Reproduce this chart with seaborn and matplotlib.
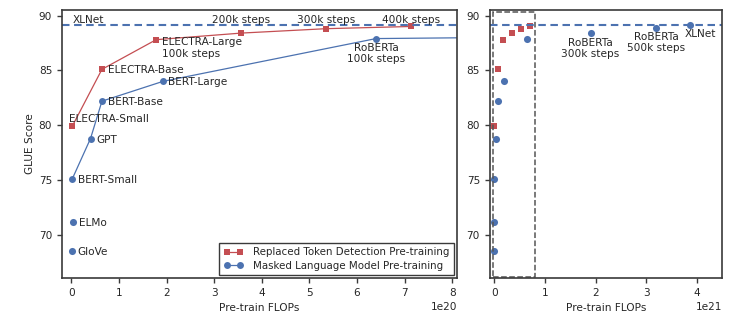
import matplotlib
matplotlib.use("Agg")
import matplotlib.pyplot as plt
import matplotlib.patches as mpatches
from matplotlib.ticker import MultipleLocator
import seaborn as sns
import pandas as pd

# ---- data: pre-training FLOPs vs GLUE dev score ----
rtd_names = ["ELECTRA-Small", "ELECTRA-Base", "ELECTRA-Large\n100k steps",
             "200k steps", "300k steps", "400k steps"]
rtd_flops = [1.4e18, 6.4e19, 1.78e20, 3.57e20, 5.35e20, 7.13e20]
rtd_glue = [79.9, 85.1, 87.8, 88.4, 88.8, 89.0]

mlm_line_names = ["BERT-Small", "GPT", "BERT-Base", "BERT-Large",
                  "RoBERTa\n100k steps", "RoBERTa\n300k steps", "RoBERTa\n500k steps"]
mlm_line_flops = [1.4e18, 4.0e19, 6.4e19, 1.92e20, 6.4e20, 1.9e21, 3.2e21]
mlm_line_glue = [75.1, 78.8, 82.2, 84.0, 87.9, 88.4, 88.9]

other_names = ["GloVe", "ELMo", "XLNet"]
other_flops = [1.0e18, 3.3e18, 3.86e21]
other_glue = [68.6, 71.2, 89.1]

xlnet_glue = 89.1
zoom_box_flops = 8.1e20  # right edge of the region shown in the left panel

RED = "#c44e52"
BLUE = "#4c72b0"
TXT = "#262626"

rtd = pd.DataFrame({"name": rtd_names, "flops": rtd_flops, "glue": rtd_glue})
mlm = pd.DataFrame({"name": mlm_line_names, "flops": mlm_line_flops, "glue": mlm_line_glue})
oth = pd.DataFrame({"name": other_names, "flops": other_flops, "glue": other_glue})
mlm_all = pd.concat([mlm, oth], ignore_index=True)

sns.set_theme(style="ticks")
plt.rcParams.update({
    "font.family": ["DejaVu Sans"],
    "font.size": 7.6,
    "axes.labelsize": 7.6,
    "xtick.labelsize": 7.6,
    "ytick.labelsize": 7.6,
    "legend.fontsize": 7.4,
    "axes.edgecolor": "#3a3a3a",
    "axes.linewidth": 1.2,
    "xtick.color": "#3a3a3a",
    "ytick.color": "#3a3a3a",
    "xtick.labelcolor": TXT,
    "ytick.labelcolor": TXT,
    "xtick.major.size": 3.5,
    "ytick.major.size": 3.5,
    "xtick.major.width": 1.0,
    "ytick.major.width": 1.0,
    "axes.labelcolor": TXT,
    "text.color": TXT,
})

fig = plt.figure(figsize=(7.36, 3.25), dpi=100)
axL = fig.add_axes([0.0842, 0.1446, 0.5367, 0.8246])
axR = fig.add_axes([0.6654, 0.1446, 0.3160, 0.8246])

YMIN, YMAX = 66.1, 90.5

# ---- left panel: zoomed-in view with connected series ----
sns.lineplot(data=rtd, x="flops", y="glue", sort=False, ax=axL, color=RED,
             marker="s", markersize=4.6, markeredgewidth=0, linewidth=0.9,
             label="Replaced Token Detection Pre-training")
sns.lineplot(data=mlm, x="flops", y="glue", sort=False, ax=axL, color=BLUE,
             marker="o", markersize=5.0, markeredgewidth=0, linewidth=0.9,
             label="Masked Language Model Pre-training")
sns.scatterplot(data=oth.iloc[:2], x="flops", y="glue", ax=axL, color=BLUE,
                s=26, linewidth=0, legend=False)
axL.axhline(xlnet_glue, color=BLUE, linestyle="--", linewidth=1.5, dashes=(3.6, 2.2))

axL.set_xlim(-0.2e20, 8.1e20)
axL.set_ylim(YMIN, YMAX)
axL.xaxis.set_major_locator(MultipleLocator(1e20))
axL.yaxis.set_major_locator(MultipleLocator(5))
axL.set_xlabel("Pre-train FLOPs")
axL.set_ylabel("GLUE Score", labelpad=3)

label_y = 89.35
axL.annotate("XLNet", (0, label_y), xytext=(0.6, 0), textcoords="offset points",
             ha="left", va="baseline")
for i in range(3, 6):
    axL.annotate(rtd_names[i], (rtd_flops[i], label_y), ha="center", va="baseline")

def side(ax, name, x, y):
    ax.annotate(name, (x, y), xytext=(4.0, 0), textcoords="offset points",
                ha="left", va="center_baseline")

side(axL, rtd_names[1], rtd_flops[1], rtd_glue[1])
axL.annotate(rtd_names[2], (rtd_flops[2], rtd_glue[2]), xytext=(4.0, 1.6),
             textcoords="offset points", ha="left", va="top", linespacing=1.15)
axL.annotate(rtd_names[0], (rtd_flops[0], rtd_glue[0]), xytext=(-2.6, 3.4),
             textcoords="offset points", ha="left", va="baseline")
for i in range(4):
    side(axL, mlm_line_names[i], mlm_line_flops[i], mlm_line_glue[i])
for i in range(2):
    side(axL, other_names[i], other_flops[i], other_glue[i])
axL.annotate(mlm_line_names[4], (mlm_line_flops[4], mlm_line_glue[4]), xytext=(0, -3.2),
             textcoords="offset points", ha="center", va="top", linespacing=1.15)

leg = axL.legend(loc="lower right", numpoints=2, handlelength=1.9, frameon=True,
                 fancybox=False, edgecolor="#3a3a3a", borderaxespad=0.25,
                 handletextpad=1.0, borderpad=0.45, labelspacing=0.35)
leg.get_frame().set_linewidth(1.0)
leg.get_frame().set_alpha(1)

# ---- right panel: full range, points only ----
sns.scatterplot(data=rtd, x="flops", y="glue", ax=axR, color=RED, marker="s",
                s=22, linewidth=0, legend=False)
sns.scatterplot(data=mlm_all, x="flops", y="glue", ax=axR, color=BLUE, marker="o",
                s=26, linewidth=0, legend=False)
axR.axhline(xlnet_glue, color=BLUE, linestyle="--", linewidth=1.5, dashes=(3.6, 2.2))

axR.add_patch(mpatches.Rectangle((-0.03e21, YMIN + 0.1), zoom_box_flops + 0.03e21,
                                 YMAX - YMIN - 0.3, fill=False, edgecolor="#555555",
                                 linestyle="--", linewidth=1.1, zorder=1))

axR.set_xlim(-0.09e21, 4.5e21)
axR.set_ylim(YMIN, YMAX)
axR.xaxis.set_major_locator(MultipleLocator(1e21))
axR.yaxis.set_major_locator(MultipleLocator(5))
axR.set_xlabel("Pre-train FLOPs")
axR.set_ylabel("")

for i in (5, 6):
    axR.annotate(mlm_line_names[i], (mlm_line_flops[i], mlm_line_glue[i]), xytext=(0, -3.2),
                 textcoords="offset points", ha="center", va="top", linespacing=1.15)
axR.annotate(other_names[2], (other_flops[2], other_glue[2]), xytext=(7.7, -2.6),
             textcoords="offset points", ha="center", va="top")

for ax in (axL, axR):
    for s in ax.spines.values():
        s.set_visible(True)

fig.savefig("out.png", dpi=100)
